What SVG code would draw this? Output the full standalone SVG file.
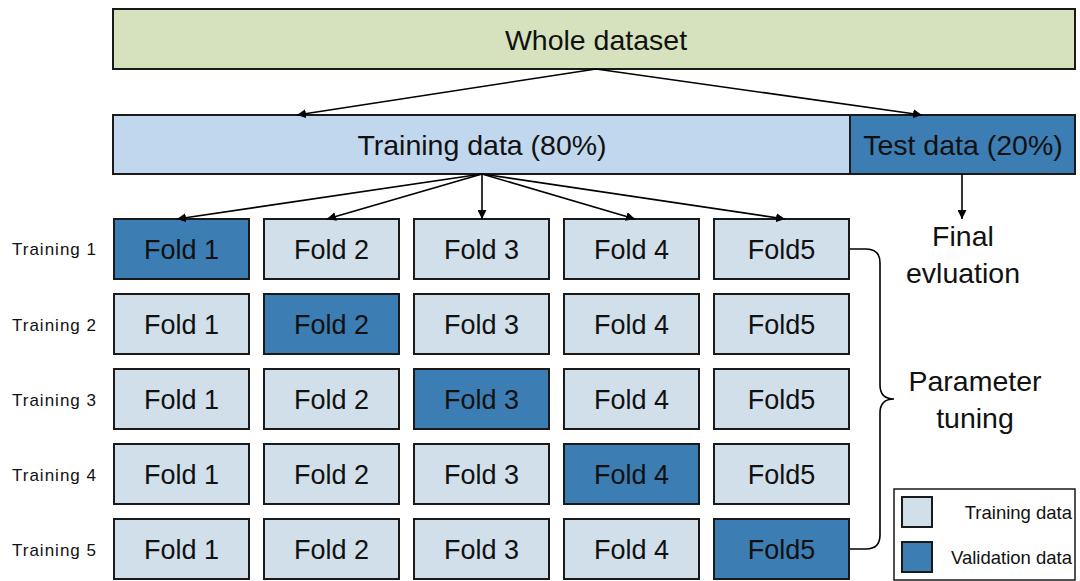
<svg xmlns="http://www.w3.org/2000/svg" width="1080" height="581" viewBox="0 0 1080 581">
<style>
text{font-family:"Liberation Sans",Arial,sans-serif;fill:#111;}
.big{font-size:27px;text-anchor:middle;}
.hdr{font-size:28.5px;text-anchor:middle;}
.lbl{font-size:17px;letter-spacing:1px;}
.leg{font-size:18.5px;text-anchor:end;}
.box{stroke:#1a1a1a;stroke-width:2;}
.lt{fill:#d1dfea;}
.dk{fill:#3c7db4;}
.conn{stroke:#000;stroke-width:1.6;fill:none;}
</style>
<defs>
<marker id="ah" viewBox="0 0 10 10" refX="10" refY="5" markerWidth="9" markerHeight="9" markerUnits="userSpaceOnUse" orient="auto">
<path d="M0,0 L10,5 L0,10 z" fill="#000"/>
</marker>
</defs>
<rect width="1080" height="581" fill="#fff"/>
<g id="whole"><rect class="box" x="113" y="9" width="962" height="60" fill="#d5e2bd"/><text class="hdr" x="596" y="50">Whole dataset</text></g>
<g id="train"><rect class="box" x="113" y="115" width="737" height="59" fill="#c0d7ee"/><text class="hdr" x="482" y="155">Training data (80%)</text></g>
<g id="test"><rect class="box" x="850" y="115" width="225" height="59" fill="#3c7db4"/><text class="hdr" x="963" y="155">Test data (20%)</text></g>
<g id="final"><text class="hdr" x="963" y="246">Final</text><text class="hdr" x="963" y="283">evluation</text></g>
<g id="param"><text class="hdr" x="975" y="391">Parameter</text><text class="hdr" x="975" y="428">tuning</text></g>
<g id="labels">
<text class="lbl" x="12" y="255">Training 1</text>
<text class="lbl" x="12" y="331">Training 2</text>
<text class="lbl" x="12" y="406">Training 3</text>
<text class="lbl" x="12" y="481">Training 4</text>
<text class="lbl" x="12" y="556">Training 5</text>
</g>
<g id="row1">
<rect class="box dk" x="114" y="219" width="135" height="60"/><text class="big" x="181.5" y="259">Fold 1</text>
<rect class="box lt" x="264" y="219" width="135" height="60"/><text class="big" x="331.5" y="259">Fold 2</text>
<rect class="box lt" x="414" y="219" width="135" height="60"/><text class="big" x="481.5" y="259">Fold 3</text>
<rect class="box lt" x="564" y="219" width="135" height="60"/><text class="big" x="631.5" y="259">Fold 4</text>
<rect class="box lt" x="714" y="219" width="135" height="60"/><text class="big" x="781.5" y="259">Fold5</text>
</g>
<g id="row2">
<rect class="box lt" x="114" y="294" width="135" height="60"/><text class="big" x="181.5" y="334">Fold 1</text>
<rect class="box dk" x="264" y="294" width="135" height="60"/><text class="big" x="331.5" y="334">Fold 2</text>
<rect class="box lt" x="414" y="294" width="135" height="60"/><text class="big" x="481.5" y="334">Fold 3</text>
<rect class="box lt" x="564" y="294" width="135" height="60"/><text class="big" x="631.5" y="334">Fold 4</text>
<rect class="box lt" x="714" y="294" width="135" height="60"/><text class="big" x="781.5" y="334">Fold5</text>
</g>
<g id="row3">
<rect class="box lt" x="114" y="369" width="135" height="60"/><text class="big" x="181.5" y="409">Fold 1</text>
<rect class="box lt" x="264" y="369" width="135" height="60"/><text class="big" x="331.5" y="409">Fold 2</text>
<rect class="box dk" x="414" y="369" width="135" height="60"/><text class="big" x="481.5" y="409">Fold 3</text>
<rect class="box lt" x="564" y="369" width="135" height="60"/><text class="big" x="631.5" y="409">Fold 4</text>
<rect class="box lt" x="714" y="369" width="135" height="60"/><text class="big" x="781.5" y="409">Fold5</text>
</g>
<g id="row4">
<rect class="box lt" x="114" y="444" width="135" height="60"/><text class="big" x="181.5" y="484">Fold 1</text>
<rect class="box lt" x="264" y="444" width="135" height="60"/><text class="big" x="331.5" y="484">Fold 2</text>
<rect class="box lt" x="414" y="444" width="135" height="60"/><text class="big" x="481.5" y="484">Fold 3</text>
<rect class="box dk" x="564" y="444" width="135" height="60"/><text class="big" x="631.5" y="484">Fold 4</text>
<rect class="box lt" x="714" y="444" width="135" height="60"/><text class="big" x="781.5" y="484">Fold5</text>
</g>
<g id="row5">
<rect class="box lt" x="114" y="519" width="135" height="60"/><text class="big" x="181.5" y="559">Fold 1</text>
<rect class="box lt" x="264" y="519" width="135" height="60"/><text class="big" x="331.5" y="559">Fold 2</text>
<rect class="box lt" x="414" y="519" width="135" height="60"/><text class="big" x="481.5" y="559">Fold 3</text>
<rect class="box lt" x="564" y="519" width="135" height="60"/><text class="big" x="631.5" y="559">Fold 4</text>
<rect class="box dk" x="714" y="519" width="135" height="60"/><text class="big" x="781.5" y="559">Fold5</text>
</g>
<g id="legend">
<rect x="894" y="489" width="181" height="91" fill="#fff" stroke="#1a1a1a" stroke-width="1.5"/>
<rect class="box lt" x="902" y="497" width="30" height="30" stroke-width="1.5"/>
<rect class="box dk" x="902" y="542" width="30" height="30" stroke-width="1.5"/>
<text class="leg" x="1072" y="519">Training data</text>
<text class="leg" x="1072" y="564">Validation data</text>
</g>
<g id="connectors">
<line class="conn" x1="596" y1="69" x2="297" y2="115" marker-end="url(#ah)"/>
<line class="conn" x1="596" y1="69" x2="922" y2="115" marker-end="url(#ah)"/>
<line class="conn" x1="482" y1="174" x2="177" y2="219" marker-end="url(#ah)"/>
<line class="conn" x1="482" y1="174" x2="327" y2="219" marker-end="url(#ah)"/>
<line class="conn" x1="482" y1="174" x2="482" y2="219" marker-end="url(#ah)"/>
<line class="conn" x1="482" y1="174" x2="635" y2="219" marker-end="url(#ah)"/>
<line class="conn" x1="482" y1="174" x2="785" y2="219" marker-end="url(#ah)"/>
<line class="conn" x1="962" y1="174" x2="962" y2="219" marker-end="url(#ah)"/>
<path class="conn" d="M850,249 H866 Q880,249 880,263 V385 Q880,399 894,399 Q880,399 880,413 V535 Q880,549 866,549 H850"/>
</g>
</svg>
